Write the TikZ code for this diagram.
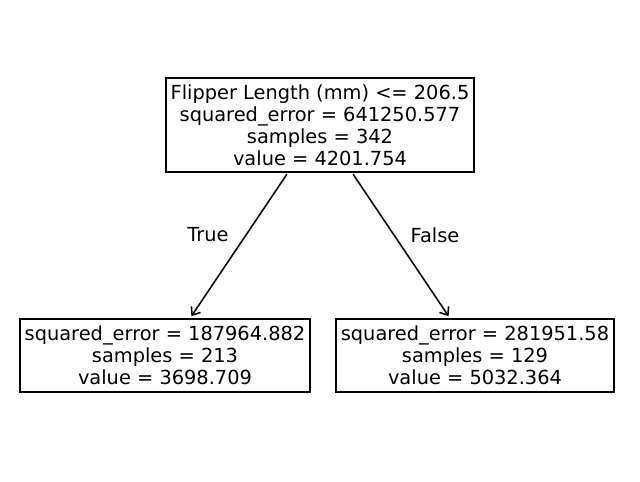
\documentclass[tikz,border=0pt]{standalone}
\usepackage{fontspec}
\setmainfont{DejaVu Sans}
\usetikzlibrary{positioning,arrows.meta}
\definecolor{edge1}{HTML}{000000}

\tikzset{
  treenode/.style={draw=edge1, line width=1.1pt, align=center, font=\fontsize{14pt}{15.8pt}\selectfont, inner xsep=3.4pt, inner ysep=5pt},
  treeedge/.style={draw=edge1, line width=1.1pt, -{Straight Barb[length=5pt,width=8pt,line width=1.1pt]}, shorten >=2pt, shorten <=1pt},
  edgelabel/.style={font=\fontsize{14pt}{16pt}\selectfont}
}

\begin{document}
\begin{tikzpicture}[x=0.01in,y=-0.01in]
\useasboundingbox (0,0) rectangle (640,482);
\node[treenode] (root) at (320,125) {Flipper Length (mm) <= 206.5\\squared\_error = 641250.577\\samples = 342\\value = 4201.754};
\node[treenode] (left) at (165,355.5) {squared\_error = 187964.882\\samples = 213\\value = 3698.709};
\node[treenode] (right) at (475,355.5) {squared\_error = 281951.58\\samples = 129\\value = 5032.364};
\draw[treeedge] (root) -- (left);
\draw[treeedge] (root) -- (right);
\node[edgelabel] (truelbl) at (208,235) {True};
\node[edgelabel] (falselbl) at (435,235) {False};
\end{tikzpicture}
\end{document}
